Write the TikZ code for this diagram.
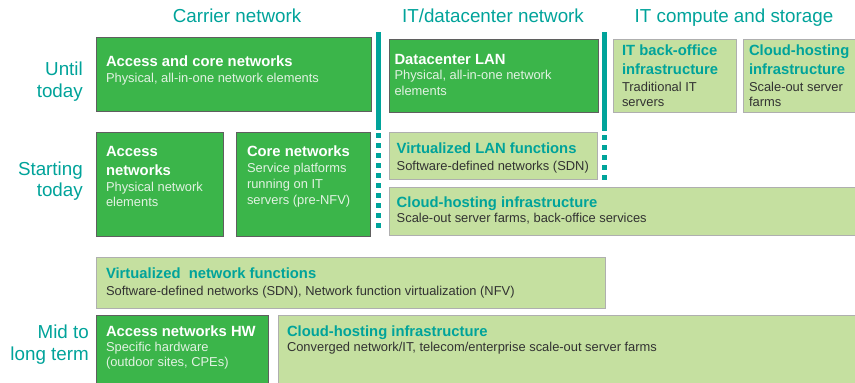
\documentclass[tikz,border=0pt]{standalone}
\usepackage{fontspec}
\setmainfont{Liberation Sans}
\definecolor{dgreen}{RGB}{59,181,74}
\definecolor{lgreen}{RGB}{197,224,160}
\definecolor{teal}{RGB}{0,163,154}
\definecolor{dborder}{RGB}{95,95,95}
\definecolor{lborder}{RGB}{175,175,175}
\definecolor{subw}{RGB}{226,242,226}
\definecolor{subd}{RGB}{50,50,50}
\newcommand\hdfont{\fontsize{18.8}{22}\selectfont}
\newcommand\tfont{\fontsize{14.8}{18}\selectfont\bfseries}
\newcommand\sfont{\fontsize{12.9}{15}\selectfont}
\newcommand\Lb[1]{\hbox{\smash{#1}}}
\tikzset{
  darkbox/.style={draw=dborder, line width=0.9pt, fill=dgreen, anchor=north west, inner sep=0pt},
  lightbox/.style={draw=lborder, line width=1pt, fill=lgreen, anchor=north west, inner sep=0pt},
  txt/.style={anchor=base west, inner sep=0pt, outer sep=0pt},
  hdr/.style={anchor=base, inner sep=0pt, text=teal, font=\hdfont},
  lbl/.style={anchor=base east, inner sep=0pt, text=teal, font=\hdfont},
  sepline/.style={draw=teal, line width=5pt},
  seplinedot/.style={draw=teal, line width=5pt, dash pattern=on 5pt off 5pt},
}
\begin{document}
\begin{tikzpicture}[x=1pt,y=-1pt]
\useasboundingbox (0,0) rectangle (855,383);
% headers
\node[hdr] (h1) at (237,22) {Carrier network};
\node[hdr] (h2) at (493,22) {IT/datacenter network};
\node[hdr] (h3) at (734,22) {IT compute and storage};
% row labels
\node[lbl] (l1a) at (83,75) {Until};
\node[lbl] (l1b) at (83,97) {today};
\node[lbl] (l2a) at (83,175) {Starting};
\node[lbl] (l2b) at (83,196) {today};
\node[lbl] (l3a) at (89,338) {Mid to};
\node[lbl] (l3b) at (89,360) {long term};
% separators
\coordinate (s1a) at (378,32);
\coordinate (s1b) at (378,130);
\coordinate (s1c) at (378,133);
\coordinate (s1d) at (378,231);
\coordinate (s2a) at (604.5,32);
\coordinate (s2b) at (604.5,131);
\coordinate (s2c) at (604.5,135);
\coordinate (s2d) at (604.5,180);
\draw[sepline] (s1a) -- (s1b);
\draw[seplinedot] (s1c) -- (s1d);
\draw[sepline] (s2a) -- (s2b);
\draw[seplinedot] (s2c) -- (s2d);
% row 1
\node[darkbox, minimum width=275, minimum height=74] (acn) at (96,37) {};
\node[darkbox, minimum width=209, minimum height=72.5] (dlan) at (389,39) {};
\node[lightbox, minimum width=123, minimum height=72.5] (itbo) at (613,39) {};
\node[lightbox, minimum width=120, minimum height=72.5] (ch1) at (743,39) {};
% row 2
\node[darkbox, minimum width=127, minimum height=104] (an) at (96,132) {};
\node[darkbox, minimum width=134, minimum height=104] (cn) at (236,132) {};
\node[lightbox, minimum width=208, minimum height=47] (vlan) at (389,132) {};
\node[lightbox, minimum width=475, minimum height=48] (ch2) at (389,187) {};
% row 3
\node[lightbox, minimum width=509, minimum height=51] (vnf) at (96,257) {};
\node[darkbox, minimum width=172, minimum height=80] (anhw) at (96,315) {};
\node[lightbox, minimum width=585, minimum height=80] (ch3) at (278,315) {};
% texts
\node[txt] (tacn) at (106,66.7) {\vtop{\offinterlineskip
  \Lb{\tfont\color{white}Access and core networks}\vskip15.8pt
  \Lb{\sfont\color{subw}Physical, all-in-one network elements}}};
\node[txt] (tdlan) at (394.5,64) {\vtop{\offinterlineskip
  \Lb{\tfont\color{white}Datacenter LAN}\vskip15.5pt
  \Lb{\sfont\color{subw}Physical, all-in-one network}\vskip15.7pt
  \Lb{\sfont\color{subw}elements}}};
\node[txt] (titbo) at (622,55) {\vtop{\offinterlineskip
  \Lb{\tfont\color{teal}IT back-office}\vskip19pt
  \Lb{\tfont\color{teal}infrastructure}\vskip17.5pt
  \Lb{\sfont\color{subd}Traditional IT}\vskip15pt
  \Lb{\sfont\color{subd}servers}}};
\node[txt] (tch1) at (749,55) {\vtop{\offinterlineskip
  \Lb{\tfont\color{teal}Cloud-hosting}\vskip19pt
  \Lb{\tfont\color{teal}infrastructure}\vskip17.5pt
  \Lb{\sfont\color{subd}Scale-out server}\vskip15pt
  \Lb{\sfont\color{subd}farms}}};
\node[txt] (tan) at (106,156.7) {\vtop{\offinterlineskip
  \Lb{\tfont\color{white}Access}\vskip18.3pt
  \Lb{\tfont\color{white}networks}\vskip16.7pt
  \Lb{\sfont\color{subw}Physical network}\vskip15pt
  \Lb{\sfont\color{subw}elements}}};
\node[txt] (tcn) at (247,156.7) {\vtop{\offinterlineskip
  \Lb{\tfont\color{white}Core networks}\vskip16pt
  \Lb{\sfont\color{subw}Service platforms}\vskip15.7pt
  \Lb{\sfont\color{subw}running on IT}\vskip15.7pt
  \Lb{\sfont\color{subw}servers (pre-NFV)}}};
\node[txt] (tvlan) at (396.7,153.3) {\vtop{\offinterlineskip
  \Lb{\tfont\color{teal}Virtualized LAN functions}\vskip16.7pt
  \Lb{\sfont\color{subd}Software-defined networks (SDN)}}};
\node[txt] (tch2) at (396.7,207.7) {\vtop{\offinterlineskip
  \Lb{\tfont\color{teal}Cloud-hosting infrastructure}\vskip15pt
  \Lb{\sfont\color{subd}Scale-out server farms, back-office services}}};
\node[txt] (tvnf) at (106,278.3) {\vtop{\offinterlineskip
  \Lb{\tfont\color{teal}Virtualized\ \ network functions}\vskip16.7pt
  \Lb{\sfont\color{subd}Software-defined networks (SDN), Network function virtualization (NFV)}}};
\node[txt] (tanhw) at (106,336) {\vtop{\offinterlineskip
  \Lb{\tfont\color{white}Access networks HW}\vskip15.7pt
  \Lb{\sfont\color{subw}Specific hardware}\vskip15pt
  \Lb{\sfont\color{subw}(outdoor sites, CPEs)}}};
\node[txt] (tch3) at (287,336) {\vtop{\offinterlineskip
  \Lb{\tfont\color{teal}Cloud-hosting infrastructure}\vskip15.7pt
  \Lb{\sfont\color{subd}Converged network/IT, telecom/enterprise scale-out server farms}}};
\end{tikzpicture}
\end{document}
